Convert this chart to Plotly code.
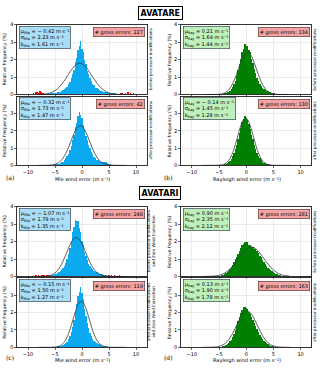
import plotly.graph_objects as go

FONT = "DejaVu Sans"
BIN_START = -7.0
BIN_WIDTH = 0.25
FIT_START = -8.0
FIT_STEP = 0.5

# ---------------- histogram heights (relative frequency, %) ----------------
hist_mie_avatare_before = [
    0.04, 0.05, 0.04, 0.06, 0.05, 0.07, 0.06, 0.08,
    0.09, 0.10, 0.12, 0.14, 0.16, 0.20, 0.24, 0.30,
    0.36, 0.45, 0.58, 0.72, 0.92, 1.18, 1.42, 1.85,
    2.10, 2.55, 2.75, 3.05, 2.60, 2.45, 1.95, 1.75,
    1.35, 1.18, 0.92, 0.80, 0.60, 0.52, 0.40, 0.36,
    0.29, 0.27, 0.21, 0.20, 0.17, 0.17, 0.13, 0.14,
    0.11, 0.10, 0.09, 0.08, 0.07, 0.06, 0.05, 0.04,
    0.03]
hist_mie_avatare_after = [
    0.01, 0.01, 0.02, 0.02, 0.02, 0.03, 0.03, 0.04,
    0.05, 0.06, 0.08, 0.10, 0.13, 0.17, 0.22, 0.30,
    0.40, 0.52, 0.68, 0.90, 1.10, 1.45, 1.75, 2.20,
    2.45, 2.85, 3.10, 2.90, 2.75, 2.35, 2.10, 1.70,
    1.48, 1.18, 1.00, 0.76, 0.63, 0.48, 0.41, 0.32,
    0.28, 0.24, 0.22, 0.19, 0.18, 0.17, 0.22, 0.16,
    0.10, 0.06, 0.04, 0.03, 0.02, 0.02, 0.01, 0.01,
    0.01]
hist_ray_avatare_before = [
    0.00, 0.00, 0.00, 0.00, 0.01, 0.01, 0.01, 0.02,
    0.02, 0.03, 0.04, 0.05, 0.07, 0.09, 0.12, 0.16,
    0.22, 0.30, 0.42, 0.58, 0.80, 1.05, 1.38, 1.72,
    2.05, 2.45, 2.60, 2.90, 2.75, 2.80, 2.55, 2.42,
    2.05, 1.82, 1.48, 1.24, 0.96, 0.80, 0.60, 0.51,
    0.40, 0.33, 0.27, 0.22, 0.18, 0.15, 0.12, 0.10,
    0.08, 0.06, 0.05, 0.04, 0.03, 0.02, 0.02, 0.01,
    0.01]
hist_ray_avatare_after = [
    0.00, 0.00, 0.00, 0.00, 0.00, 0.00, 0.01, 0.01,
    0.01, 0.02, 0.03, 0.04, 0.06, 0.09, 0.13, 0.19,
    0.27, 0.38, 0.52, 0.70, 0.92, 1.20, 1.52, 1.85,
    2.18, 2.50, 2.68, 2.88, 2.76, 2.64, 2.38, 2.12,
    1.78, 1.52, 1.18, 0.96, 0.72, 0.54, 0.40, 0.30,
    0.22, 0.16, 0.12, 0.09, 0.07, 0.05, 0.04, 0.03,
    0.02, 0.02, 0.01, 0.01, 0.01, 0.00, 0.00, 0.00,
    0.00]
hist_mie_avatari_before = [
    0.02, 0.02, 0.03, 0.04, 0.05, 0.06, 0.08, 0.10,
    0.12, 0.15, 0.19, 0.24, 0.30, 0.38, 0.48, 0.62,
    0.80, 1.02, 1.30, 1.65, 2.05, 2.55, 2.85, 3.25,
    3.20, 3.15, 2.80, 2.55, 2.05, 1.78, 1.40, 1.17,
    0.92, 0.74, 0.60, 0.48, 0.40, 0.33, 0.28, 0.24,
    0.20, 0.17, 0.15, 0.12, 0.10, 0.08, 0.06, 0.04,
    0.03, 0.02, 0.02, 0.01, 0.01, 0.01, 0.00, 0.00,
    0.00]
hist_mie_avatari_after = [
    0.01, 0.01, 0.01, 0.01, 0.01, 0.02, 0.02, 0.02,
    0.03, 0.04, 0.05, 0.06, 0.08, 0.10, 0.13, 0.18,
    0.24, 0.33, 0.46, 0.64, 0.88, 1.20, 1.60, 2.05,
    2.50, 2.95, 3.20, 3.50, 3.15, 2.80, 2.20, 1.82,
    1.38, 1.10, 0.80, 0.64, 0.46, 0.37, 0.28, 0.24,
    0.19, 0.17, 0.13, 0.10, 0.08, 0.06, 0.05, 0.04,
    0.03, 0.02, 0.02, 0.01, 0.01, 0.01, 0.00, 0.00,
    0.00]
hist_ray_avatari_before = [
    0.00, 0.00, 0.00, 0.01, 0.01, 0.01, 0.02, 0.03,
    0.04, 0.05, 0.07, 0.10, 0.14, 0.19, 0.25, 0.33,
    0.43, 0.55, 0.68, 0.82, 0.98, 1.14, 1.30, 1.48,
    1.62, 1.78, 1.84, 1.98, 1.95, 1.96, 1.82, 1.78,
    1.68, 1.68, 1.58, 1.56, 1.44, 1.36, 1.20, 1.10,
    0.95, 0.82, 0.70, 0.60, 0.50, 0.42, 0.35, 0.29,
    0.24, 0.19, 0.15, 0.12, 0.09, 0.07, 0.05, 0.04,
    0.03]
hist_ray_avatari_after = [
    0.00, 0.00, 0.00, 0.00, 0.01, 0.01, 0.01, 0.02,
    0.02, 0.03, 0.04, 0.06, 0.09, 0.13, 0.18, 0.25,
    0.34, 0.45, 0.60, 0.78, 1.00, 1.25, 1.50, 1.75,
    1.98, 2.15, 2.30, 2.32, 2.26, 2.20, 2.04, 1.94,
    1.76, 1.58, 1.40, 1.21, 1.03, 0.86, 0.71, 0.58,
    0.46, 0.37, 0.29, 0.22, 0.17, 0.13, 0.10, 0.07,
    0.05, 0.04, 0.03, 0.02, 0.02, 0.01, 0.01, 0.01,
    0.00]

# ---------------- fitted Gaussian curves read at 0.5 m/s steps ----------------
fit_mie_avatare_before = [0.010, 0.012, 0.023, 0.043, 0.078, 0.133, 0.217, 0.335, 0.493, 0.689, 0.916,
                          1.158, 1.392, 1.591, 1.729, 1.788, 1.758, 1.643, 1.461, 1.235, 0.993, 0.759,
                          0.552, 0.382, 0.251, 0.157, 0.093, 0.053, 0.028, 0.015, 0.007, 0.003, 0.001]
fit_mie_avatare_after = [0.0, 0.0, 0.001, 0.004, 0.011, 0.026, 0.059, 0.124, 0.240, 0.426, 0.695,
                         1.043, 1.439, 1.827, 2.135, 2.294, 2.267, 2.061, 1.724, 1.326, 0.938, 0.611,
                         0.366, 0.201, 0.102, 0.048, 0.020, 0.008, 0.003, 0.001, 0.0, 0.0, 0.0]
fit_ray_avatare_before = [0.0, 0.0, 0.0, 0.001, 0.002, 0.006, 0.016, 0.039, 0.090, 0.188, 0.358,
                          0.621, 0.981, 1.413, 1.853, 2.215, 2.413, 2.395, 2.167, 1.786, 1.341, 0.918,
                          0.572, 0.325, 0.168, 0.080, 0.034, 0.013, 0.005, 0.002, 0.001, 0.0, 0.0]
fit_ray_avatare_after = [0.0, 0.0, 0.0, 0.0, 0.001, 0.003, 0.010, 0.030, 0.080, 0.188, 0.393,
                         0.731, 1.208, 1.772, 2.307, 2.668, 2.738, 2.496, 2.020, 1.451, 0.926, 0.525,
                         0.264, 0.118, 0.047, 0.016, 0.005, 0.001, 0.0, 0.0, 0.0, 0.0, 0.0]
fit_mie_avatari_before = [0.001, 0.004, 0.009, 0.022, 0.050, 0.104, 0.200, 0.355, 0.584, 0.887, 1.246,
                          1.620, 1.947, 2.166, 2.227, 2.119, 1.864, 1.517, 1.142, 0.795, 0.512, 0.305,
                          0.168, 0.086, 0.040, 0.018, 0.007, 0.003, 0.001, 0.0, 0.0, 0.0, 0.0]
fit_mie_avatari_after = [0.0, 0.0, 0.0, 0.0, 0.001, 0.005, 0.014, 0.040, 0.099, 0.220, 0.438,
                         0.780, 1.243, 1.774, 2.266, 2.589, 2.647, 2.422, 1.983, 1.453, 0.952, 0.559,
                         0.293, 0.138, 0.058, 0.022, 0.007, 0.002, 0.0, 0.0, 0.0, 0.0, 0.0]
fit_ray_avatari_before = [0.001, 0.003, 0.006, 0.012, 0.023, 0.042, 0.073, 0.121, 0.193, 0.294, 0.428,
                          0.596, 0.793, 1.008, 1.225, 1.422, 1.578, 1.674, 1.696, 1.643, 1.522, 1.347,
                          1.139, 0.921, 0.711, 0.525, 0.371, 0.250, 0.161, 0.099, 0.058, 0.033, 0.018]
fit_ray_avatari_after = [0.0, 0.001, 0.002, 0.005, 0.012, 0.026, 0.055, 0.108, 0.198, 0.339, 0.541,
                         0.806, 1.120, 1.453, 1.760, 1.988, 2.095, 2.061, 1.891, 1.619, 1.294, 0.965,
                         0.671, 0.436, 0.264, 0.149, 0.079, 0.039, 0.018, 0.008, 0.003, 0.001, 0.0]

# ---------------- gross errors (sparse red bins) ----------------
gross_x_mie_avatare_before = [-11.0, -9.5, -9.0, -8.5, -8.25, -8.0, -7.75, -7.5, -7.25, 7.25, 7.5, 8.0, 8.5, 9.0, 9.5, 10.0]
gross_y_mie_avatare_before = [0.03, 0.05, 0.08, 0.12, 0.16, 0.10, 0.18, 0.12, 0.08, 0.06, 0.10, 0.08, 0.12, 0.06, 0.08, 0.04]
gross_x_mie_avatare_after = [-11.5, -10.0, -9.5, -8.75, -6.75, 7.5, 9.0]
gross_y_mie_avatare_after = [0.03, 0.04, 0.03, 0.04, 0.03, 0.02, 0.02]
gross_x_ray_avatare_before = [6.5, 7.0, 7.5, 8.0, 8.5, 9.0]
gross_y_ray_avatare_before = [0.02, 0.03, 0.03, 0.02, 0.02, 0.01]
gross_x_ray_avatare_after = [5.5, 6.0, 6.5, 7.0]
gross_y_ray_avatare_after = [0.02, 0.02, 0.01, 0.01]
gross_x_mie_avatari_before = [-11.0, -9.0, -8.5, -8.0, -7.5, -7.25, -7.0, -6.5, -6.25, 5.0, 5.5, 6.0, 6.5, 7.0, 7.5, 8.0]
gross_y_mie_avatari_before = [0.02, 0.04, 0.06, 0.08, 0.10, 0.06, 0.09, 0.10, 0.06, 0.06, 0.08, 0.07, 0.05, 0.06, 0.04, 0.03]
gross_x_mie_avatari_after = [-10.5, -9.5, -8.0, -6.5, 5.75, 6.5, 8.0]
gross_y_mie_avatari_after = [0.02, 0.03, 0.02, 0.03, 0.03, 0.02, 0.01]
gross_x_ray_avatari_before = [-7.5, 7.75, 8.25, 9.5, 10.0, 10.5]
gross_y_ray_avatari_before = [0.01, 0.02, 0.02, 0.04, 0.05, 0.03]
gross_x_ray_avatari_after = [-9.0, 6.5, 7.0, 9.5]
gross_y_ray_avatari_after = [0.01, 0.02, 0.01, 0.01]

# ---------------- statistics (order: a-top, a-bot, b-top, b-bot, c-top, c-bot, d-top, d-bot) ----------------
mu_values = [-0.42, -0.32, 0.21, -0.14, -1.07, -0.15, 0.90, 0.13]
sigma_values = [2.23, 1.73, 1.64, 1.45, 1.79, 1.50, 2.35, 1.90]
kmad_values = [1.61, 1.47, 1.44, 1.28, 1.35, 1.27, 2.12, 1.78]
gross_counts = [227, 42, 134, 130, 248, 119, 281, 163]

campaign_titles = ["AVATARE", "AVATARI"]
x_tick_values = [-10, -5, 0, 5, 10]

MIE_BLUE = "#0aa9f0"
RAY_GREEN = "#008000"
GROSS_RED = "#ff0000"
MIE_BOX = "#a9def6"
RAY_BOX = "#bdf0bd"
GROSS_BOX = "#f4a3a3"

hists = [hist_mie_avatare_before, hist_mie_avatare_after, hist_ray_avatare_before, hist_ray_avatare_after,
         hist_mie_avatari_before, hist_mie_avatari_after, hist_ray_avatari_before, hist_ray_avatari_after]
fits = [fit_mie_avatare_before, fit_mie_avatare_after, fit_ray_avatare_before, fit_ray_avatare_after,
        fit_mie_avatari_before, fit_mie_avatari_after, fit_ray_avatari_before, fit_ray_avatari_after]
gxs = [gross_x_mie_avatare_before, gross_x_mie_avatare_after, gross_x_ray_avatare_before, gross_x_ray_avatare_after,
       gross_x_mie_avatari_before, gross_x_mie_avatari_after, gross_x_ray_avatari_before, gross_x_ray_avatari_after]
gys = [gross_y_mie_avatare_before, gross_y_mie_avatare_after, gross_y_ray_avatare_before, gross_y_ray_avatare_after,
       gross_y_mie_avatari_before, gross_y_mie_avatari_after, gross_y_ray_avatari_before, gross_y_ray_avatari_after]

W, H = 320, 369
def px_x(p):
    return p / W
def px_y(p):
    return 1 - p / H

col_dom = [[px_x(17.2), px_x(146.8)], [px_x(181.0), px_x(311.5)]]
row_px = [(22, 93), (95, 165), (207, 278), (279.5, 350)]
row_dom = [[px_y(b), px_y(t)] for (t, b) in row_px]

panel_pos = [(0, 0), (0, 1), (1, 0), (1, 1), (0, 2), (0, 3), (1, 2), (1, 3)]
side_texts = ["before processor modifications", "after processor modifications",
              "before processor modifications", "after processor modifications",
              "before processor modifications<br>and Zero Wind Correction",
              "after processor modifications<br>and Zero Wind Correction",
              "before processor modifications", "after processor modifications"]

UNIT = "m s\u207b\u00b9"

fig = go.Figure()
layout = dict(
    width=W, height=H, margin=dict(l=0, r=0, t=0, b=0),
    paper_bgcolor="white", plot_bgcolor="white", showlegend=False,
    barmode="overlay", bargap=0, font=dict(family=FONT, color="black"),
)
annotations = []

def fmt_mu(v):
    return ("\u2212 %.2f" % abs(v)) if v < 0 else "%.2f" % v

for i in range(8):
    col, row = panel_pos[i]
    n = i + 1
    xa = "x" if n == 1 else f"x{n}"
    ya = "y" if n == 1 else f"y{n}"
    is_mie = col == 0
    is_bottom = row in (1, 3)
    color = MIE_BLUE if is_mie else RAY_GREEN

    fig.add_trace(go.Bar(x0=BIN_START, dx=BIN_WIDTH, y=hists[i], marker=dict(color=color, line=dict(width=0)),
                         xaxis=xa, yaxis=ya, hoverinfo="skip"))
    fig.add_trace(go.Bar(x=gxs[i], y=gys[i], width=BIN_WIDTH, marker=dict(color=GROSS_RED, line=dict(width=0)),
                         xaxis=xa, yaxis=ya, hoverinfo="skip"))
    fig.add_trace(go.Scatter(x0=FIT_START, dx=FIT_STEP, y=fits[i], mode="lines", line_shape="spline",
                             line=dict(color="#3a3a3a", width=0.8), xaxis=xa, yaxis=ya, hoverinfo="skip"))

    layout["xaxis" if n == 1 else f"xaxis{n}"] = dict(
        domain=col_dom[col], anchor=ya, range=[-12, 12], tickvals=x_tick_values,
        showgrid=True, gridcolor="#dedede", gridwidth=0.6, zeroline=False,
        showline=True, linecolor="black", linewidth=0.8, mirror=True,
        ticks="outside", ticklen=2, tickwidth=0.6, tickcolor="black",
        showticklabels=is_bottom, tickfont=dict(size=5, family=FONT))
    layout["yaxis" if n == 1 else f"yaxis{n}"] = dict(
        domain=row_dom[row], anchor=xa, range=[0, 4],
        tickvals=[0, 1, 2, 3] if is_bottom else [0, 1, 2, 3, 4],
        showgrid=True, gridcolor="#dedede", gridwidth=0.6, zeroline=False,
        showline=True, linecolor="black", linewidth=0.8, mirror=True,
        ticks="outside", ticklen=2, tickwidth=0.6, tickcolor="black",
        tickfont=dict(size=5, family=FONT))

    sub = "Mie" if is_mie else "Ray"
    stats = (f"\u03bc<sub>{sub}</sub> = {fmt_mu(mu_values[i])} {UNIT}<br>"
             f"\u03c3<sub>{sub}</sub> = {sigma_values[i]:.2f} {UNIT}<br>"
             f"k<sub>{sub}</sub> = {kmad_values[i]:.2f} {UNIT}")
    annotations.append(dict(text=stats, xref=f"{xa} domain", yref=f"{ya} domain", x=0.012, y=0.985,
                            xanchor="left", yanchor="top", align="left", showarrow=False,
                            bgcolor=MIE_BOX if is_mie else RAY_BOX, bordercolor="#3c4a55", borderwidth=0.7,
                            borderpad=1, font=dict(size=5, family=FONT)))
    annotations.append(dict(text=f"# gross errors: {gross_counts[i]}", xref=f"{xa} domain", yref=f"{ya} domain",
                            x=0.985, y=0.96, xanchor="right", yanchor="top", showarrow=False,
                            bgcolor=GROSS_BOX, bordercolor="#5a3a3a", borderwidth=0.7, borderpad=1,
                            font=dict(size=5, family=FONT)))
    annotations.append(dict(text=side_texts[i], xref="paper", yref=f"{ya} domain",
                            x=px_x(150.5 if col == 0 else 315), y=0.5, xanchor="center", yanchor="middle",
                            textangle=-90, showarrow=False, font=dict(size=4, family=FONT)))
    annotations.append(dict(text="Relative frequency (%)", xref="paper", yref=f"{ya} domain",
                            x=px_x(5 if col == 0 else 169.5), y=0.5, xanchor="center", yanchor="middle",
                            textangle=-90, showarrow=False, font=dict(size=4.6, family=FONT)))

for half in range(2):
    yl = px_y(179 if half == 0 else 363)
    annotations.append(dict(text=f"Mie wind error ({UNIT})", xref="paper", yref="paper",
                            x=px_x(82), y=yl, xanchor="center", yanchor="middle", showarrow=False,
                            font=dict(size=5, family=FONT)))
    annotations.append(dict(text=f"Rayleigh wind error ({UNIT})", xref="paper", yref="paper",
                            x=px_x(246.5), y=yl, xanchor="center", yanchor="middle", showarrow=False,
                            font=dict(size=5, family=FONT)))
    letters = ["(a)", "(b)"] if half == 0 else ["(c)", "(d)"]
    ylet = px_y(177.5 if half == 0 else 360)
    annotations.append(dict(text=letters[0], xref="paper", yref="paper", x=px_x(10), y=ylet,
                            xanchor="center", yanchor="middle", showarrow=False, font=dict(size=6, family=FONT)))
    annotations.append(dict(text=letters[1], xref="paper", yref="paper", x=px_x(168), y=ylet,
                            xanchor="center", yanchor="middle", showarrow=False, font=dict(size=6, family=FONT)))
    annotations.append(dict(text=f"<b>{campaign_titles[half]}</b>", xref="paper", yref="paper",
                            x=0.5, y=px_y(10 if half == 0 else 193.5), xanchor="center", yanchor="middle",
                            showarrow=False, bgcolor="white", bordercolor="black", borderwidth=1, borderpad=1.5,
                            font=dict(size=8, family=FONT)))

layout["annotations"] = annotations
fig.update_layout(**layout)
fig.write_html(
    "out.html",
    config={"displayModeBar": False, "staticPlot": True},
    post_script="document.body.style.margin='0';document.body.style.padding='0';document.body.style.overflow='hidden';",
)
